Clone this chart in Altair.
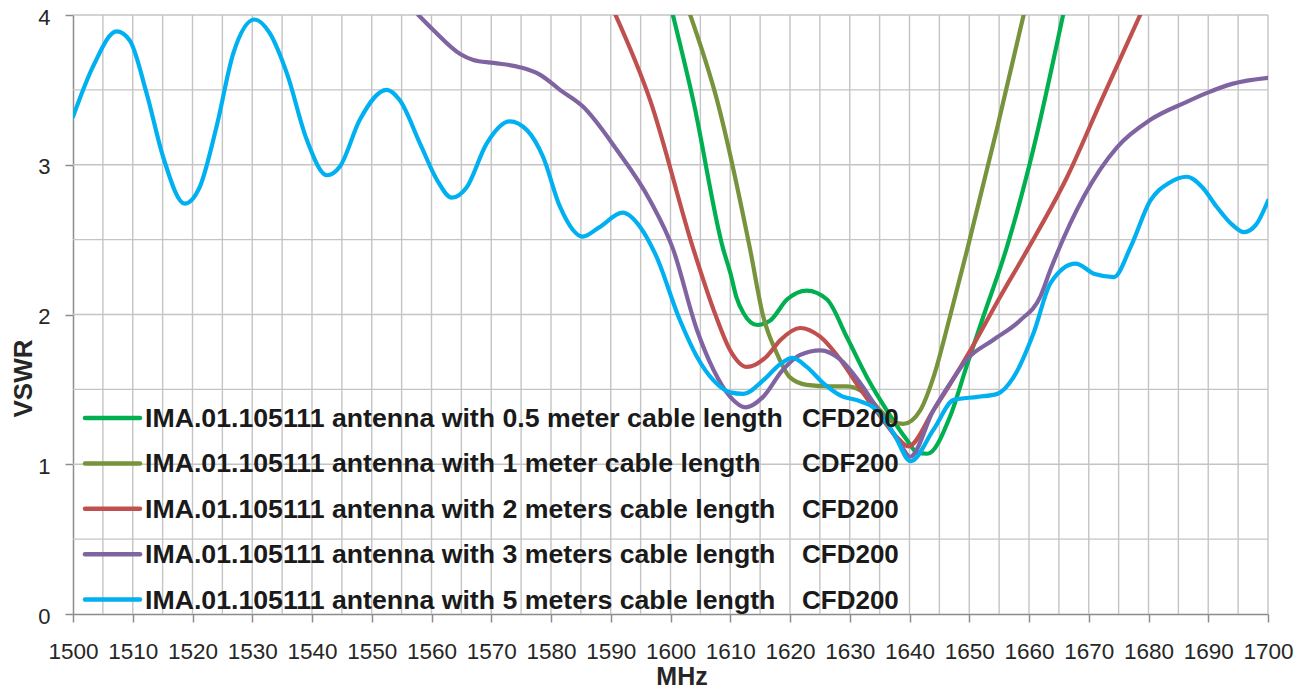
import altair as alt
import pandas as pd

# ---------------- data ----------------
series_names = [
    "IMA.01.105111 antenna with 0.5 meter cable length",
    "IMA.01.105111 antenna with 1 meter cable length",
    "IMA.01.105111 antenna with 2 meters cable length",
    "IMA.01.105111 antenna with 3 meters cable length",
    "IMA.01.105111 antenna with 5 meters cable length",
]
series_suffix = ["CFD200", "CDF200", "CFD200", "CFD200", "CFD200"]
series_colors = ["#00B050", "#77933C", "#C0504D", "#8064A2", "#00B0F0"]

freq_05 = [1600.4, 1603.8, 1608.8, 1610, 1611, 1612.2, 1614.5, 1616.7, 1619.5, 1622.8,
           1626.2, 1629.5, 1632.9, 1636.2, 1639.6, 1641.2, 1643, 1646.8, 1649.6, 1652.3,
           1656.3, 1660.7, 1665.7]
vswr_05 = [4.0, 3.43, 2.44, 2.28, 2.12, 2.01, 1.93, 1.96, 2.10, 2.16,
           2.10, 1.85, 1.58, 1.36, 1.16, 1.08, 1.07, 1.32, 1.66, 1.98,
           2.45, 3.10, 4.0]

freq_1 = [1603.3, 1607.8, 1613.3, 1615.5, 1617.8, 1620, 1622.8, 1626.7, 1629.5, 1632.3,
          1635.1, 1637.3, 1639, 1641.8, 1644, 1646.8, 1649.7, 1654.7, 1659.1]
vswr_1 = [4.0, 3.43, 2.44, 1.99, 1.74, 1.58, 1.53, 1.52, 1.52, 1.48,
          1.36, 1.28, 1.27, 1.36, 1.58, 1.99, 2.44, 3.25, 4.0]

freq_2 = [1590.8, 1596.6, 1603.8, 1607.5, 1610, 1612.8, 1616.1, 1618.4, 1621.7, 1625.1,
          1628.4, 1631.8, 1635.1, 1637.9, 1639.8, 1644, 1649.6, 1655.2, 1659.7, 1666.4,
          1672, 1678.6]
vswr_2 = [4.0, 3.43, 2.44, 2.00, 1.76, 1.65, 1.72, 1.83, 1.91, 1.85,
          1.70, 1.50, 1.32, 1.18, 1.12, 1.36, 1.72, 2.12, 2.43, 2.92,
          3.42, 4.0]

freq_3 = [1557.8, 1560.3, 1564.8, 1567, 1570.4, 1574.9, 1578.2, 1581.5, 1585.3, 1591,
          1596.6, 1600.4, 1604.4, 1607.2, 1610, 1612.6, 1615.5, 1618.8, 1621.7, 1625.1,
          1628.4, 1631.8, 1635.1, 1638.4, 1640.1, 1644, 1646.8, 1649.6, 1654, 1658.5,
          1661.9, 1663.6, 1669.2, 1674.8, 1680.3, 1686.4, 1689.8, 1694, 1700]
vswr_3 = [4.0, 3.90, 3.74, 3.70, 3.68, 3.65, 3.60, 3.50, 3.39, 3.10,
          2.76, 2.44, 1.90, 1.63, 1.45, 1.38, 1.45, 1.63, 1.73, 1.76,
          1.70, 1.54, 1.34, 1.14, 1.05, 1.36, 1.54, 1.70, 1.83, 1.96,
          2.12, 2.30, 2.79, 3.12, 3.30, 3.42, 3.48, 3.54, 3.58]

freq_5 = [1500, 1503.4, 1507.3, 1509.5, 1512.3, 1515.1, 1518.7, 1521.2, 1524, 1526.8,
          1530.4, 1532.9, 1535.8, 1539.1, 1542.5, 1544.7, 1548, 1552.5, 1554.7, 1558.1,
          1560.9, 1563.4, 1565.9, 1569.2, 1573.1, 1576, 1578.7, 1581.5, 1585.3, 1588,
          1592, 1595, 1597.5, 1601.6, 1604.4, 1607.2, 1610, 1612.2, 1615.5, 1618.4,
          1620.4, 1622.8, 1625.6, 1628.4, 1631.8, 1634.6, 1637.3, 1640.2, 1644, 1647.4,
          1651.4, 1654.7, 1657.4, 1660.8, 1663.6, 1667.8, 1671, 1674.2, 1677, 1680.3,
          1683.5, 1686.4, 1689, 1691.4, 1694, 1696, 1698, 1700]
vswr_5 = [3.32, 3.66, 3.89, 3.83, 3.48, 3.05, 2.74, 2.85, 3.25, 3.74,
          3.97, 3.88, 3.61, 3.17, 2.93, 2.99, 3.30, 3.50, 3.43, 3.14,
          2.90, 2.78, 2.85, 3.14, 3.29, 3.23, 3.05, 2.72, 2.52, 2.58,
          2.68, 2.58, 2.40, 1.96, 1.72, 1.56, 1.48, 1.47, 1.56, 1.67,
          1.71, 1.65, 1.54, 1.46, 1.42, 1.36, 1.21, 1.02, 1.23, 1.43,
          1.45, 1.47, 1.58, 1.88, 2.21, 2.34, 2.27, 2.25, 2.45, 2.76,
          2.88, 2.92, 2.85, 2.72, 2.60, 2.55, 2.60, 2.76]

x_ticks = list(range(1500, 1701, 10))
y_ticks = [0, 1, 2, 3, 4]
x_grid = list(range(1505, 1701, 5))
y_grid = [0.5, 1, 1.5, 2, 2.5, 3, 3.5, 4]

# ---------------- build table ----------------
all_freq = [freq_05, freq_1, freq_2, freq_3, freq_5]
all_vswr = [vswr_05, vswr_1, vswr_2, vswr_3, vswr_5]
rows = []
for k, (name, fs, vs) in enumerate(zip(series_names, all_freq, all_vswr)):
    for f, v in zip(fs, vs):
        rows.append({"series": name, "order": k, "MHz": f, "VSWR": v})
df = pd.DataFrame(rows)

W, H = 1195, 599
FONT = "Liberation Sans"

x_scale = alt.Scale(domain=[1500, 1700], nice=False, zero=False)
y_scale = alt.Scale(domain=[0, 4], nice=False, zero=False)

x_axis = alt.Axis(values=x_ticks, grid=False, tickSize=8, tickColor="#8c8c8c", tickWidth=1.5,
                  domainColor="#8c8c8c", domainWidth=1.5, labelFont=FONT, labelFontSize=22.5,
                  labelColor="#262626", labelPadding=18, labelFlush=False, labelOverlap=False,
                  title="MHz", titleFont=FONT, titleFontSize=25, titleFontWeight="bold",
                  titleColor="#262626", titleX=W / 2 + 11, titleY=70, titleBaseline="alphabetic",
                  titleAlign="center", format="d")
y_axis = alt.Axis(values=y_ticks, grid=False, tickSize=8, tickColor="#8c8c8c", tickWidth=1.5,
                  domainColor="#8c8c8c", domainWidth=1.5, labelFont=FONT, labelFontSize=22,
                  labelColor="#262626", labelPadding=15, labelFlush=False, labelOffset=2,
                  title="VSWR", titleFont=FONT, titleFontSize=26, titleFontWeight="bold",
                  titleColor="#262626", titleAngle=270, titleX=-42, titleY=363,
                  titleBaseline="alphabetic", titleAlign="center")

layers = []
# gridlines every 5 MHz and every 0.5
layers.append(alt.Chart(pd.DataFrame({"MHz": x_grid})).mark_rule(
    color="#c4c4c4", strokeWidth=1.4).encode(x=alt.X("MHz:Q", scale=x_scale, axis=x_axis)))
layers.append(alt.Chart(pd.DataFrame({"VSWR": y_grid})).mark_rule(
    color="#c4c4c4", strokeWidth=1.4).encode(y=alt.Y("VSWR:Q", scale=y_scale, axis=y_axis)))

# series drawn one after another (last one on top)
for k, name in enumerate(series_names):
    layers.append(
        alt.Chart(df[df["series"] == name]).mark_line(
            strokeWidth=4.2, interpolate="monotone", clip=True,
            strokeCap="round", strokeJoin="round", color=series_colors[k]).encode(
            x=alt.X("MHz:Q", scale=x_scale, axis=x_axis),
            y=alt.Y("VSWR:Q", scale=y_scale, axis=y_axis),
        )
    )

# ---------------- custom legend (inside the plot, bottom-left) ----------------
leg_top, leg_step = 403, 45.4
line_x0, line_x1, text_x, suffix_x = 12, 67, 72, 729
one = pd.DataFrame({"a": [0]})
for k, name in enumerate(series_names):
    ly = leg_top + k * leg_step
    layers.append(alt.Chart(one).mark_rule(strokeWidth=4.5, color=series_colors[k], strokeCap="round").encode(
        x=alt.value(line_x0), x2=alt.value(line_x1), y=alt.value(ly)))
    layers.append(alt.Chart(one).mark_text(text=name, font=FONT, fontSize=26.7, fontWeight="bold",
                                           color="#1a1a1a", align="left", baseline="alphabetic").encode(
        x=alt.value(text_x), y=alt.value(ly + 9)))
    layers.append(alt.Chart(one).mark_text(text=series_suffix[k], font=FONT, fontSize=26, fontWeight="bold",
                                           color="#1a1a1a", align="left", baseline="alphabetic").encode(
        x=alt.value(suffix_x), y=alt.value(ly + 9)))

chart = alt.layer(*layers).properties(
    width=W, height=H,
    autosize=alt.AutoSizeParams(type="none"),
    padding={"left": 65, "top": 7, "right": 31, "bottom": 74},
).configure_view(stroke=None)

chart.save("out.html", embed_options={"renderer": "svg", "actions": False})
